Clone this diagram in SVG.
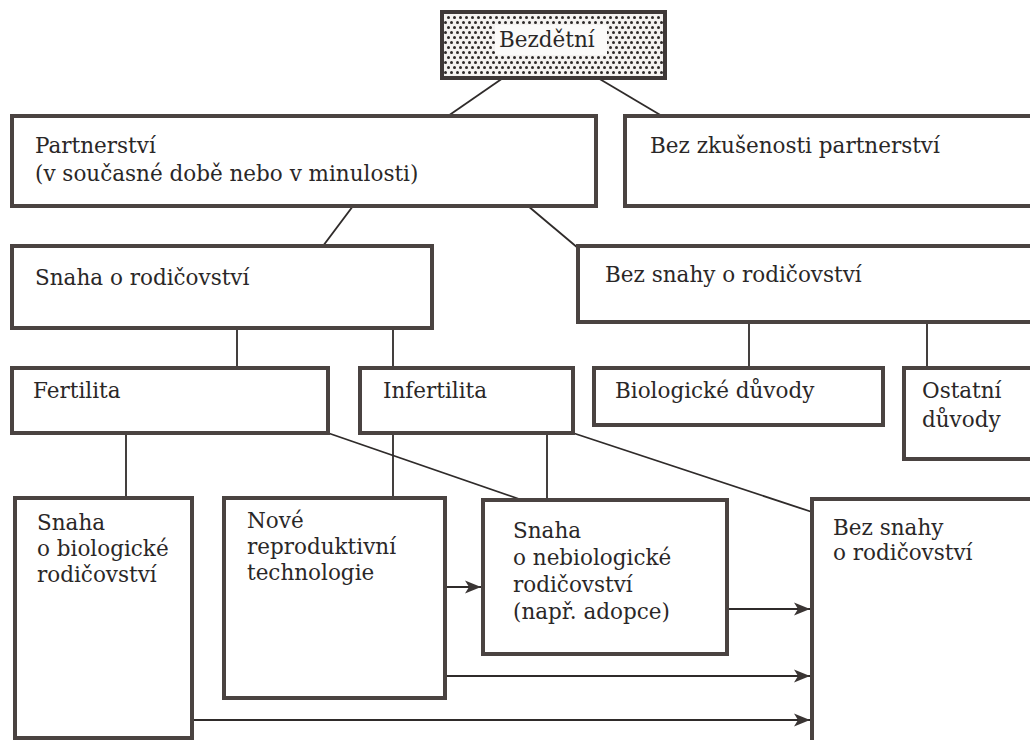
<svg xmlns="http://www.w3.org/2000/svg" width="1030" height="740" viewBox="0 0 1030 740">
<defs>
<pattern id="dots" width="6" height="10" patternUnits="userSpaceOnUse">
<rect width="6" height="10" fill="#f4f2f0"/>
<circle cx="1.5" cy="2.5" r="1.5" fill="#2e2a29"/>
<circle cx="4.5" cy="7.5" r="1.5" fill="#2e2a29"/>
</pattern>
<marker id="arr" markerUnits="userSpaceOnUse" markerWidth="16" markerHeight="14" refX="16" refY="7" orient="auto">
<path d="M0,0.5 L16,7 L0,13.5 L4,7 z" fill="#3a3534"/>
</marker>
</defs>
<style>
.box{fill:#fff;stroke:#4a4341;stroke-width:4}
.t{font-family:"DejaVu Serif","Liberation Serif",serif;font-size:21.5px;fill:#2a2727}
.c{stroke:#2f2b2a;stroke-width:1.8;fill:none}
.a{stroke:#2f2b2a;stroke-width:1.8;fill:none;marker-end:url(#arr)}
</style>
<rect width="1030" height="740" fill="#fff"/>
<g id="connectors">
<line class="c" x1="503" y1="78" x2="448" y2="116"/>
<line class="c" x1="598" y1="78" x2="662" y2="116"/>
<line class="c" x1="353" y1="206" x2="323" y2="246"/>
<line class="c" x1="528" y1="206" x2="578" y2="248"/>
<line class="c" x1="237" y1="328" x2="237" y2="368"/>
<line class="c" x1="393" y1="328" x2="393" y2="368"/>
<line class="c" x1="749" y1="322" x2="749" y2="368"/>
<line class="c" x1="927" y1="322" x2="927" y2="368"/>
<line class="c" x1="126" y1="433" x2="126" y2="498"/>
<line class="c" x1="393" y1="433" x2="393" y2="498"/>
<line class="c" x1="547" y1="433" x2="547" y2="500"/>
<line class="c" x1="328" y1="433" x2="522" y2="500"/>
<line class="c" x1="573" y1="433" x2="812" y2="512"/>
<line class="a" x1="445" y1="587" x2="481" y2="587"/>
<line class="a" x1="727" y1="609" x2="810" y2="609"/>
<line class="a" x1="445" y1="676" x2="810" y2="676"/>
<line class="a" x1="192" y1="720" x2="810" y2="720"/>
</g>
<g id="bezdetni">
<rect x="442" y="12" width="223" height="66" fill="url(#dots)" stroke="#3e3837" stroke-width="4"/>
<rect x="495" y="25" width="112" height="30" fill="#fbfaf9"/>
<text class="t" x="499" y="47">Bezdětní</text>
</g>
<g id="partnerstvi">
<rect class="box" x="12" y="116" width="584" height="90"/>
<text class="t" x="35" y="153">Partnerství</text>
<text class="t" x="35" y="181">(v současné době nebo v minulosti)</text>
</g>
<g id="bez-zkusenosti">
<rect class="box" x="625" y="116" width="420" height="90"/>
<text class="t" x="650" y="153">Bez zkušenosti partnerství</text>
</g>
<g id="snaha-rodicovstvi">
<rect class="box" x="12" y="246" width="420" height="82"/>
<text class="t" x="35" y="285">Snaha o rodičovství</text>
</g>
<g id="bez-snahy-top">
<rect class="box" x="578" y="246" width="470" height="76"/>
<text class="t" x="605" y="282">Bez snahy o rodičovství</text>
</g>
<g id="fertilita">
<rect class="box" x="12" y="368" width="316" height="65"/>
<text class="t" x="33" y="398">Fertilita</text>
</g>
<g id="infertilita">
<rect class="box" x="360" y="368" width="213" height="65"/>
<text class="t" x="383" y="398">Infertilita</text>
</g>
<g id="biologicke-duvody">
<rect class="box" x="594" y="368" width="289" height="57"/>
<text class="t" x="615" y="398">Biologické důvody</text>
</g>
<g id="ostatni-duvody">
<rect class="box" x="904" y="368" width="140" height="91"/>
<text class="t" x="922" y="398">Ostatní</text>
<text class="t" x="922" y="427">důvody</text>
</g>
<g id="snaha-bio">
<rect class="box" x="15" y="498" width="177" height="240"/>
<text class="t" x="37" y="530">Snaha</text>
<text class="t" x="37" y="556">o biologické</text>
<text class="t" x="37" y="582">rodičovství</text>
</g>
<g id="nove-technologie">
<rect class="box" x="224" y="498" width="221" height="200"/>
<text class="t" x="247" y="528">Nové</text>
<text class="t" x="247" y="554">reproduktivní</text>
<text class="t" x="247" y="580">technologie</text>
</g>
<g id="snaha-nebio">
<rect class="box" x="483" y="500" width="244" height="154" stroke-width="5"/>
<text class="t" x="513" y="538">Snaha</text>
<text class="t" x="513" y="565">o nebiologické</text>
<text class="t" x="513" y="592">rodičovství</text>
<text class="t" x="513" y="619">(např. adopce)</text>
</g>
<g id="bez-snahy-bottom">
<rect class="box" x="812" y="499" width="240" height="260"/>
<text class="t" x="833" y="535">Bez snahy</text>
<text class="t" x="833" y="560">o rodičovství</text>
</g>
</svg>
